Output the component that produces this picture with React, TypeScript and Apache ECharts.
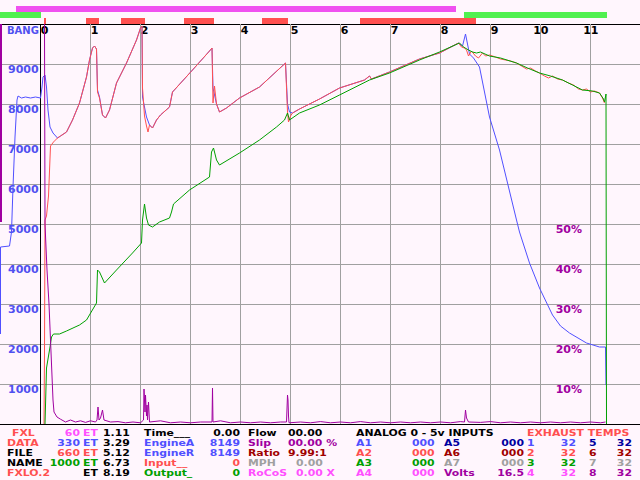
import { useEffect, useRef } from 'react';
import * as echarts from 'echarts';

// ---------- data ----------
const timeTicks = [0, 1, 2, 3, 4, 5, 6, 7, 8, 9, 10, 11];

// top indicator bars: [start s, end s]
const magentaBars: [number, number][] = [[-0.49, 8.31]];
const greenBars: [number, number][] = [[-0.81, 0.01], [8.47, 11.33]];
const redBars: [number, number][] = [[0.07, 0.11], [0.91, 1.17], [1.61, 2.09], [2.87, 3.47], [4.43, 4.95], [6.39, 8.71]];

// EngineA rpm (blue)
const engineA: [number, number][] = [
  [-0.8, 2250], [-0.8, 4425], [-0.62, 4450], [-0.58, 4800], [-0.55, 5925], [-0.51, 7175], [-0.47, 8100],
  [-0.45, 8200], [-0.38, 8150], [-0.3, 8175], [-0.2, 8150], [-0.1, 8175], [0.0, 8150], [0.03, 8425],
  [0.05, 8675], [0.09, 8725], [0.12, 8425], [0.15, 7850], [0.19, 7425], [0.25, 7275], [0.34, 7150],
  [0.4, 7200], [0.52, 7300], [0.64, 7600], [0.78, 8025], [0.92, 8675], [0.98, 9100], [1.04, 9400],
  [1.08, 9450], [1.12, 9375], [1.14, 8350], [1.18, 8175], [1.24, 7725], [1.3, 7650], [1.38, 7850],
  [1.52, 8525], [1.72, 9025], [1.92, 9600], [2.0, 9900], [2.03, 9950], [2.04, 8175], [2.12, 7675],
  [2.18, 7475], [2.24, 7400], [2.32, 7600], [2.4, 7725], [2.58, 7925], [2.64, 8300], [3.04, 8850],
  [3.38, 9325], [3.43, 9400], [3.45, 8400], [3.52, 8000], [3.58, 7800], [3.72, 7900], [3.98, 8150],
  [4.38, 8425], [4.9, 9025], [4.94, 8000], [4.98, 7800], [5.04, 7775], [5.18, 7875], [5.58, 8125],
  [5.98, 8400], [6.48, 8600], [6.58, 8700], [6.62, 8625], [6.98, 8800], [7.58, 9125], [7.98, 9275],
  [8.36, 9525], [8.44, 9450], [8.5, 9750], [8.54, 9500], [8.58, 9250], [8.66, 9150], [8.78, 8925],
  [8.98, 7675], [9.18, 6850], [9.52, 5100], [9.58, 4800], [9.78, 4025], [9.98, 3400], [10.24, 2725],
  [10.4, 2450], [10.58, 2275], [10.92, 2025], [11.18, 1925], [11.3, 1925], [11.31, 975],
];

// EngineR rpm (red)
const engineR: [number, number][] = [
  [0.07, 0], [0.08, 1800], [0.09, 5100], [0.12, 5200], [0.16, 5700], [0.2, 6950], [0.26, 7050],
  [0.34, 7150], [0.4, 7200], [0.52, 7300], [0.64, 7600], [0.78, 8025], [0.92, 8675], [0.98, 9100],
  [1.04, 9400], [1.08, 9450], [1.12, 9375], [1.14, 8300], [1.18, 8150], [1.24, 7725], [1.3, 7650],
  [1.38, 7850], [1.52, 8525], [1.72, 9025], [1.92, 9600], [2.0, 9900], [2.03, 9950], [2.04, 8400],
  [2.08, 7700], [2.12, 7450], [2.15, 7300], [2.18, 7475], [2.24, 7400], [2.32, 7600], [2.4, 7725],
  [2.58, 7925], [2.64, 8300], [3.04, 8850], [3.38, 9325], [3.43, 9400], [3.45, 8025], [3.48, 8450],
  [3.52, 8000], [3.58, 7800], [3.72, 7900], [3.98, 8150], [4.38, 8425], [4.9, 9025], [4.94, 7800],
  [4.96, 7550], [5.0, 7700], [5.04, 7775], [5.18, 7875], [5.58, 8125], [5.98, 8400], [6.48, 8600],
  [6.58, 8700], [6.62, 8625], [6.98, 8800], [7.58, 9125], [7.98, 9275], [8.36, 9525], [8.42, 9425],
  [8.48, 9400], [8.52, 9350], [8.56, 9200], [8.62, 9325], [8.7, 9200], [8.76, 9150], [8.84, 9275],
  [8.9, 9200], [8.98, 9225], [9.1, 9175], [9.2, 9125], [9.3, 9100], [9.4, 9075], [9.52, 9025],
  [9.62, 8950], [9.72, 8875], [9.8, 8900], [9.9, 8825], [9.98, 8775], [10.08, 8700], [10.16, 8650],
  [10.24, 8700], [10.34, 8625], [10.44, 8600], [10.56, 8525], [10.66, 8475], [10.76, 8375],
  [10.84, 8350], [10.92, 8375], [11.0, 8300], [11.08, 8325], [11.18, 8275], [11.24, 8150], [11.28, 8025],
];

// Output rpm (green)
const outputRpm: [number, number][] = [
  [0.09, 0], [0.12, 1400], [0.16, 1700], [0.19, 1925], [0.22, 2175], [0.26, 2250], [0.38, 2250],
  [0.52, 2325], [0.78, 2475], [0.92, 2600], [1.12, 3025], [1.14, 3850], [1.18, 3800], [1.28, 3525],
  [1.52, 3850], [1.84, 4275], [2.02, 4525], [2.04, 5100], [2.08, 5500], [2.12, 5150], [2.16, 4975],
  [2.24, 4925], [2.38, 5050], [2.58, 5150], [2.62, 5300], [2.66, 5500], [2.98, 5850], [3.38, 6175],
  [3.42, 6800], [3.46, 6900], [3.52, 6600], [3.58, 6475], [3.98, 6775], [4.38, 7100], [4.72, 7425],
  [4.88, 7600], [4.94, 7775], [4.98, 7600], [5.18, 7775], [5.58, 7975], [5.98, 8225], [6.58, 8600],
  [6.98, 8775], [7.58, 9100], [7.98, 9300], [8.38, 9525], [8.46, 9425], [8.56, 9350], [8.64, 9300],
  [8.72, 9275], [8.8, 9300], [8.98, 9200], [9.2, 9150], [9.52, 9025], [9.74, 8900], [9.98, 8775],
  [10.2, 8700], [10.44, 8600], [10.64, 8475], [10.84, 8350], [11.04, 8325], [11.18, 8275],
  [11.26, 8125], [11.28, 8050], [11.31, 8250], [11.32, 0],
];

// Slip % (purple)
const slipPct: [number, number][] = [
  [0.08, 100], [0.09, 50], [0.13, 38.5], [0.17, 30], [0.19, 24], [0.23, 12], [0.25, 6], [0.27, 3],
  [0.33, 1.75], [0.4, 1.2], [0.5, 0.5], [0.6, 1.0], [0.7, 0.5], [0.8, 0.8], [0.9, 0.4], [1.0, 0.8],
  [1.1, 0.5], [1.13, 1.0], [1.15, 4.25], [1.17, 1.0], [1.2, 1.5], [1.24, 3.5], [1.27, 1.0], [1.4, 0.5],
  [1.55, 0.6], [1.7, 0.3], [1.85, 0.5], [2.0, 0.3], [2.06, 1.0], [2.07, 8.75], [2.09, 3], [2.1, 7.25],
  [2.12, 2], [2.13, 4.75], [2.14, 1], [2.16, 5.5], [2.18, 0.5], [2.4, 0.8], [2.6, 0.3], [2.8, 0.5],
  [3.0, 0.3], [3.2, 0.5], [3.43, 0.5], [3.44, 9], [3.45, 0.5], [3.6, 0.8], [3.8, 0.3], [4.0, 0.5],
  [4.2, 0.3], [4.4, 0.5], [4.6, 0.3], [4.8, 0.5], [4.92, 0.5], [4.94, 7.25], [4.95, 6], [4.96, 2],
  [4.97, 0.3], [5.2, 0.5], [5.4, 0.3], [5.6, 0.6], [5.8, 0.3], [6.0, 0.5], [6.2, 0.3], [6.4, 0.6],
  [6.6, 0.3], [6.8, 0.5], [7.0, 0.3], [7.2, 0.5], [7.4, 0.3], [7.6, 0.5], [7.8, 0.3], [8.0, 0.5],
  [8.2, 0.3], [8.4, 0.6], [8.48, 0.5], [8.5, 3.5], [8.52, 1.5], [8.56, 0.5], [8.8, 0.4], [9.0, 0.6],
  [9.2, 0.3], [9.4, 0.5], [9.6, 0.3], [9.8, 0.5], [10.0, 0.3], [10.2, 0.5], [10.4, 0.3], [10.6, 0.5],
  [10.8, 0.3], [11.0, 0.5], [11.2, 0.3], [11.3, 0.5],
];
const slipPre: [number, number][] = [[-0.79, 100], [-0.79, 50.5]];

// bottom panel texts
const fileLabels = ['FXL', 'DATA', 'FILE', 'NAME', 'FXLO.2'];
const distanceFt = ['60', '330', '660', '1000', ''];
const elapsedTimes = ['1.11', '3.29', '5.12', '6.73', '8.19'];
const statusLabels = ['Time___', 'EngineA', 'EngineR', 'Input__', 'Output_'];
const statusValues = ['0.00', '8149', '8149', '0', '0'];
const extraLabels = ['Flow', 'Slip', 'Ratio', 'MPH', 'RoCoS'];
const extraValues = ['00.00', '00.00 %', '9.99:1', '0.00', '0.00 X'];
const analogTitle = 'ANALOG 0 - 5v INPUTS';
const egtTitle = 'EXHAUST TEMPS';
const analogLeft = ['A1', 'A2', 'A3', 'A4'];
const analogLeftValues = ['000', '000', '000', '000'];
const analogRight = ['A5', 'A6', 'A7', 'Volts'];
const analogRightValues = ['000', '000', '000', '16.5'];
const egtLeftCyl = ['1', '2', '3', '4'];
const egtLeftTemp = [32, 32, 32, 32];
const egtRightCyl = ['5', '6', '7', '8'];
const egtRightTemp = [32, 32, 32, 32];

// ---------- styling ----------
const FONT = '"DejaVu Sans", sans-serif';
const FONT_CSS = 'bold 11px "DejaVu Sans", sans-serif';
const PANEL_FONT = 'bold 8.5px "DejaVu Sans", sans-serif';
const PANEL_SCALE_X = 1.28;
const BG = '#fff6fd';
const RED = '#ff5050';
const MAG = '#ff50ff';
const BLUE = '#5050ff';
const GREEN = '#00a000';
const BLACK = '#000000';
const PURPLE = '#a000a0';
const DRED = '#a00000';
const GRAY = '#a0a0a0';
const DBLUE = '#0000a0';
const T_MIN = -0.81;
const T_MAX = 11.99;

function txt(text: string, x: number, y: number, fill: string, align = 'left') {
  return {
    type: 'text',
    x,
    y,
    scaleX: PANEL_SCALE_X,
    scaleY: 1,
    silent: true,
    style: {
      text, fill, font: PANEL_FONT,
      align, textAlign: align, verticalAlign: 'middle', textVerticalAlign: 'middle',
    },
  };
}

function buildPanel() {
  const rowY = [433, 443, 453, 463, 473];
  const fileColors = [RED, RED, BLACK, BLACK, RED];
  const distColors = [MAG, BLUE, RED, GREEN, BLACK];
  const statusColors = [BLACK, BLUE, BLUE, RED, GREEN];
  const extraColors = [BLACK, PURPLE, DRED, GRAY, MAG];
  const extraX = [288, 288, 288, 296, 296];
  const leftColors = [BLUE, RED, GREEN, MAG];
  const rightColors = [DBLUE, DRED, GRAY, PURPLE];
  const els: any[] = [];
  for (let i = 0; i < 5; i++) {
    const y = rowY[i];
    els.push(txt(fileLabels[i], i === 0 ? 12 : 7, y, fileColors[i]));
    if (distanceFt[i]) els.push(txt(distanceFt[i], 80, y, distColors[i], 'right'));
    els.push(txt('ET', 83, y, distColors[i]));
    els.push(txt(elapsedTimes[i], 103, y, BLACK));
    els.push(txt(statusLabels[i], 144, y, statusColors[i]));
    els.push(txt(statusValues[i], 240, y, statusColors[i], 'right'));
    els.push(txt(extraLabels[i], 248, y, extraColors[i]));
    els.push(txt(extraValues[i], extraX[i], y, extraColors[i]));
  }
  els.push(txt(analogTitle, 356, rowY[0], BLACK));
  els.push(txt(egtTitle, 527, rowY[0], RED));
  for (let i = 0; i < 4; i++) {
    const y = rowY[i + 1];
    els.push(txt(analogLeft[i], 356, y, leftColors[i]));
    els.push(txt(analogLeftValues[i], 412, y, leftColors[i]));
    els.push(txt(analogRight[i], 444, y, rightColors[i]));
    els.push(txt(analogRightValues[i], 524, y, rightColors[i], 'right'));
    els.push(txt(egtLeftCyl[i], 527, y, leftColors[i]));
    els.push(txt(String(egtLeftTemp[i]), 576, y, leftColors[i], 'right'));
    els.push(txt(egtRightCyl[i], 589, y, rightColors[i]));
    els.push(txt(String(egtRightTemp[i]), 632, y, rightColors[i], 'right'));
  }
  els.push({
    type: 'text', x: 7, y: 30, silent: true,
    style: {
      text: 'BANG', fill: '#5050f0', font: 'bold 10px "DejaVu Sans", sans-serif',
      verticalAlign: 'middle', textVerticalAlign: 'middle',
    },
  });
  return els;
}

function lineSeries(name: string, data: [number, number][], color: string, z: number, yAxisIndex = 0, width = 1) {
  return {
    name,
    type: 'line',
    xAxisIndex: 0,
    yAxisIndex,
    data,
    symbol: 'none',
    showSymbol: false,
    z,
    silent: true,
    lineStyle: { color, width },
    emphasis: { disabled: true },
  };
}

export default function App() {
  const ref = useRef<HTMLDivElement>(null);
  useEffect(() => {
    if (!ref.current) return;
    document.body.style.margin = '0';
    document.body.style.background = BG;
    const chart = echarts.init(ref.current, undefined, { renderer: 'svg' });

    const barData: number[][] = [];
    magentaBars.forEach((b) => barData.push([b[0], b[1], 2, 0]));
    greenBars.forEach((b) => barData.push([b[0], b[1], 1, 1]));
    redBars.forEach((b) => barData.push([b[0], b[1], 0, 2]));
    const barColors = ['#f050f0', '#50f050', '#ff5050'];

    const option: any = {
      animation: false,
      backgroundColor: BG,
      grid: [
        { left: 0, top: 24, width: 640, height: 400, containLabel: false },
        { left: 0, top: 6, width: 640, height: 18, containLabel: false },
      ],
      xAxis: [
        {
          type: 'value', gridIndex: 0, min: T_MIN, max: T_MAX, position: 'bottom',
          axisLine: { show: true, onZero: false, lineStyle: { color: BLACK, width: 1 } },
          axisTick: { show: false }, axisLabel: { show: false }, splitLine: { show: false },
        },
        {
          type: 'value', gridIndex: 0, min: T_MIN, max: T_MAX, position: 'top',
          axisLine: { show: true, onZero: false, lineStyle: { color: BLACK, width: 1 } },
          axisTick: { show: false }, axisLabel: { show: false }, splitLine: { show: false },
        },
        { type: 'value', gridIndex: 1, min: T_MIN, max: T_MAX, show: false },
      ],
      yAxis: [
        {
          type: 'value', gridIndex: 0, min: 0, max: 10000, interval: 1000,
          axisLine: { show: false }, axisTick: { show: false },
          splitLine: { show: true, lineStyle: { color: GRAY, width: 1 } },
          axisLabel: {
            inside: true, margin: 8, align: 'left', verticalAlign: 'top',
            color: '#5050f0', fontFamily: FONT, fontWeight: 'bold', fontSize: 11,
            formatter: (v: number) => (v >= 1000 && v <= 9000 ? String(v) : ''),
          },
        },
        {
          type: 'value', gridIndex: 0, min: 0, max: 100, interval: 10, position: 'right',
          axisLine: { show: false }, axisTick: { show: false }, splitLine: { show: false },
          axisLabel: {
            inside: true, margin: 58, align: 'right', verticalAlign: 'top',
            color: PURPLE, fontFamily: FONT, fontWeight: 'bold', fontSize: 11,
            formatter: (v: number) => (v >= 10 && v <= 50 ? v + '%' : ''),
          },
        },
        { type: 'value', gridIndex: 1, min: 0, max: 3, show: false },
      ],
      series: [
        {
          type: 'custom',
          name: 'time grid',
          xAxisIndex: 0,
          yAxisIndex: 0,
          z: 1,
          silent: true,
          data: timeTicks.map((t) => [t, 10000]),
          encode: { x: 0, y: 1 },
          renderItem: (_p: any, api: any) => {
            const t = api.value(0);
            const top = api.coord([t, 10000]);
            const bot = api.coord([t, 0]);
            return {
              type: 'group',
              children: [
                {
                  type: 'line',
                  shape: { x1: top[0], y1: top[1], x2: bot[0], y2: bot[1] },
                  style: { stroke: t === 0 ? BLACK : GRAY, lineWidth: 1 },
                },
                {
                  type: 'text',
                  x: top[0] + 8,
                  y: top[1] + 6.5,
                  style: {
                    text: String(t), fill: BLACK, font: FONT_CSS,
                    align: 'right', textAlign: 'right', verticalAlign: 'middle', textVerticalAlign: 'middle',
                  },
                },
              ],
            };
          },
        },
        {
          type: 'custom',
          name: 'indicator bars',
          xAxisIndex: 2,
          yAxisIndex: 2,
          silent: true,
          data: barData,
          encode: { x: [0, 1], y: 2 },
          renderItem: (_p: any, api: any) => {
            const p0 = api.coord([api.value(0), api.value(2) + 1]);
            const p1 = api.coord([api.value(1), api.value(2)]);
            return {
              type: 'rect',
              shape: { x: p0[0], y: p0[1], width: p1[0] - p0[0], height: p1[1] - p0[1] },
              style: { fill: barColors[api.value(3)] },
            };
          },
        },
        lineSeries('EngineA', engineA, BLUE, 3),
        lineSeries('EngineR', engineR, RED, 4),
        lineSeries('Output', outputRpm, GREEN, 5),
        lineSeries('Slip', slipPct, PURPLE, 6, 1),
        lineSeries('Slip pre', slipPre, PURPLE, 6, 1, 2),
      ],
      graphic: { elements: buildPanel() },
    };
    chart.setOption(option);
    return () => chart.dispose();
  }, []);
  return <div ref={ref} style={{ position: 'fixed', left: 0, top: 0, width: 640, height: 480 }} />;
}
